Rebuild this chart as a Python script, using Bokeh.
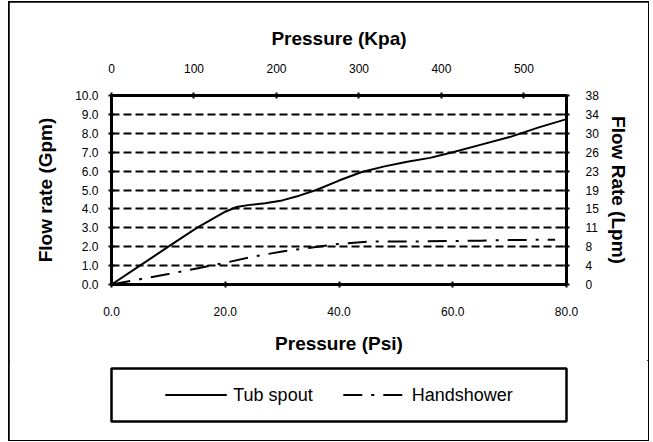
from bokeh.plotting import figure
from bokeh.layouts import column
from bokeh.models import (Range1d, LinearAxis, FixedTicker, NumeralTickFormatter,
                          Legend, LegendItem)
from bokeh.embed import file_html
from bokeh.resources import INLINE

# ---- data ----
tub_psi = [0, 5, 10, 15, 20, 22, 24, 27, 30, 33, 36, 40, 44, 48, 52, 56, 60, 65, 70, 75, 80]
tub_gpm = [0, 1.0, 2.0, 3.0, 3.85, 4.1, 4.2, 4.3, 4.45, 4.7, 5.0, 5.5, 5.95, 6.25, 6.5, 6.7,
           7.0, 7.4, 7.8, 8.3, 8.75]
hand_psi = [0, 5, 10, 15, 20, 25, 30, 35, 40, 45, 50, 55, 60, 65, 70, 78]
hand_gpm = [0, 0.28, 0.55, 0.85, 1.15, 1.48, 1.75, 1.95, 2.15, 2.27, 2.28, 2.28, 2.3,
            2.32, 2.35, 2.37]

series_names = ["Tub spout", "Handshower"]
psi_ticks = [0, 20, 40, 60, 80]
gpm_ticks = [0, 1, 2, 3, 4, 5, 6, 7, 8, 9, 10]
kpa_ticks = [0, 100, 200, 300, 400, 500]
PSI_TO_KPA = 6.894757
GPM_TO_LPM = 3.78541

FONT = "Liberation Sans"
W = 639
H_CHART = 358
H_LEG = 80
HAND_DASH = "19 9 3 9"

p = figure(width=W, height=H_CHART, output_backend="svg", toolbar_location=None,
           x_range=Range1d(0, 80), y_range=Range1d(0, 10),
           min_border_left=102, min_border_right=82, min_border_top=93,
           min_border_bottom=76, x_axis_location="below", y_axis_location="left")
p.extra_x_ranges = {"kpa": Range1d(0, 80 * PSI_TO_KPA)}
p.extra_y_ranges = {"lpm": Range1d(0, 10 * GPM_TO_LPM)}

p.outline_line_color = "black"
p.outline_line_width = 3
p.xgrid.visible = False
p.ygrid.ticker = FixedTicker(ticks=gpm_ticks)
p.ygrid.grid_line_color = "black"
p.ygrid.grid_line_width = 2
p.ygrid.grid_line_dash = "8 4"


def style_axis(ax, label_standoff, title_standoff):
    ax.axis_line_color = "black"
    ax.axis_line_width = 3
    ax.major_tick_line_color = "black"
    ax.major_tick_line_width = 2
    ax.major_tick_in = 3
    ax.major_tick_out = 3
    ax.minor_tick_line_color = None
    ax.major_label_text_font = FONT
    ax.major_label_text_font_size = "12px"
    ax.major_label_text_color = "black"
    ax.major_label_standoff = label_standoff
    ax.axis_label_text_font = FONT
    ax.axis_label_text_font_size = "19px"
    ax.axis_label_text_font_style = "bold"
    ax.axis_label_text_color = "black"
    ax.axis_label_standoff = title_standoff


xb = p.xaxis[0]
xb.ticker = FixedTicker(ticks=psi_ticks)
xb.formatter = NumeralTickFormatter(format="0.0")
xb.axis_label = "Pressure (Psi)"
style_axis(xb, 19, 14)

yl = p.yaxis[0]
yl.ticker = FixedTicker(ticks=gpm_ticks)
yl.formatter = NumeralTickFormatter(format="0.0")
yl.axis_label = "Flow rate (Gpm)"
style_axis(yl, 10, 16)

xt = LinearAxis(x_range_name="kpa", ticker=FixedTicker(ticks=kpa_ticks),
                axis_label="Pressure (Kpa)")
style_axis(xt, 20, 12)
p.add_layout(xt, "above")

yr = LinearAxis(y_range_name="lpm",
                ticker=FixedTicker(ticks=[g * GPM_TO_LPM for g in gpm_ticks]),
                formatter=NumeralTickFormatter(format="0"),
                axis_label="Flow Rate (Lpm)")
style_axis(yr, 16, 6)
p.add_layout(yr, "right")

p.line(tub_psi, tub_gpm, line_color="black", line_width=2)
p.line(hand_psi, hand_gpm, line_color="black", line_width=2, line_dash=HAND_DASH)

# ---- legend strip: its frame outline is the legend box ----
# (the series are drawn again here only to feed the legend; the ranges keep them
#  out of view, since every flow value is >= 0)
q = figure(width=W, height=H_LEG, output_backend="svg", toolbar_location=None,
           x_range=Range1d(0, 1), y_range=Range1d(-3, -2),
           x_axis_location=None, y_axis_location=None,
           min_border_left=102, min_border_right=82, min_border_top=8,
           min_border_bottom=19)
q.grid.visible = False
q.outline_line_color = "black"
q.outline_line_width = 2.5
lg_tub = q.line(tub_psi, tub_gpm, line_color="black", line_width=2)
lg_hand = q.line(hand_psi, hand_gpm, line_color="black", line_width=2, line_dash=HAND_DASH)

legend = Legend(items=[LegendItem(label=series_names[0], renderers=[lg_tub]),
                       LegendItem(label=series_names[1], renderers=[lg_hand])],
                orientation="horizontal", location="center",
                label_text_font=FONT, label_text_font_size="18px",
                label_text_color="black", glyph_width=62, glyph_height=20,
                label_standoff=7, spacing=30, padding=0, margin=0,
                border_line_alpha=0, background_fill_alpha=0)
q.add_layout(legend, "center")

layout = column(p, q, spacing=0, margin=(2, 0, 0, 9),
                styles={"outline": "2px solid black", "outline-offset": "-1px"})

open("out.html", "w").write(file_html(layout, INLINE))
